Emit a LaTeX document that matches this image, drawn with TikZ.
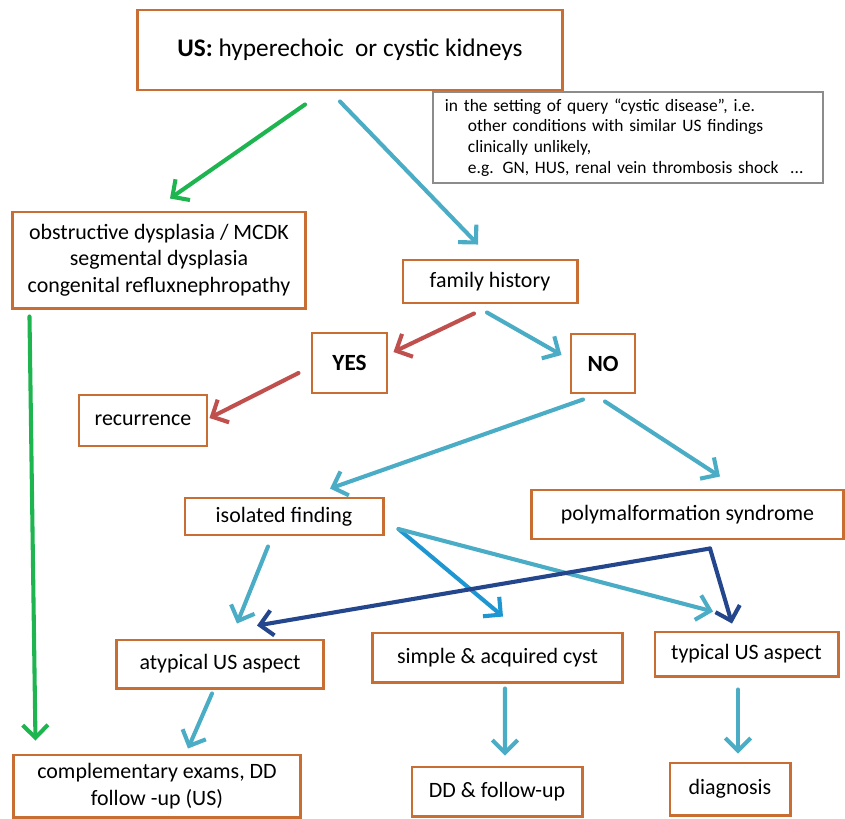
\documentclass[tikz,border=0pt]{standalone}
\usepackage{fontspec}
\setmainfont{Carlito}
\usetikzlibrary{arrows.meta, calc}

\definecolor{boxorange}{RGB}{200,110,50}
\definecolor{arrgreen}{RGB}{30,180,80}
\definecolor{arrblue}{RGB}{75,172,198}
\definecolor{arrdeep}{RGB}{30,150,210}
\definecolor{arrred}{RGB}{192,80,77}
\definecolor{arrnavy}{RGB}{35,70,140}
\definecolor{notegray}{RGB}{140,140,140}

\begin{document}
\begin{tikzpicture}[x=0.025cm, y=-0.025cm,
    box/.style={draw=boxorange, line width=2.1pt, fill=white, inner sep=0pt, align=center, font=\fontsize{15.6}{19}\selectfont},
    arr/.style={line width=2.9pt, line cap=round, -{Straight Barb[length=9pt, width=18pt]}}]
\useasboundingbox (0,0) rectangle (845,818);

% note and top box
\node[draw=notegray, line width=0.9pt, minimum width=9.75cm, minimum height=2.275cm, inner xsep=0.3cm, text width=9.15cm, align=left, font=\fontsize{12.4}{14.7}\selectfont] (note) at (628,137.5) {in the setting of query “cystic disease”, i.e.\\
\hspace*{0.575cm}other conditions with similar US findings\\
\hspace*{0.575cm}clinically unlikely,\\
\hspace*{0.575cm}e.g. GN, HUS, renal vein thrombosis shock\ \ ...};
\node[box, minimum width=10.6cm, minimum height=2cm, font=\fontsize{18}{22}\selectfont] (us) at (350,50) {\textbf{US:} hyperechoic\ \ or cystic kidneys};

\node[box, minimum width=7.3cm, minimum height=2.4cm] (obs) at (159,260) {obstructive dysplasia / MCDK\\ segmental dysplasia\\ congenital refluxnephropathy};
\node[box, minimum width=4.35cm, minimum height=1.075cm] (fam) at (490,281.5) {family history};
\node[box, minimum width=1.875cm, minimum height=1.5cm, font=\fontsize{16.5}{20}\bfseries] (yes) at (349.5,363) {YES};
\node[box, minimum width=1.6cm, minimum height=1.475cm, font=\fontsize{16.5}{20}\bfseries] (no) at (603,363.5) {NO};
\node[box, minimum width=3.2cm, minimum height=1.275cm] (rec) at (143,420.5) {recurrence};
\node[box, minimum width=4.95cm, minimum height=0.925cm] (iso) at (284,516.5) {isolated finding};
\node[box, minimum width=7.775cm, minimum height=1.225cm] (poly) at (687.5,514.5) {polymalformation syndrome};
\node[box, minimum width=5.15cm, minimum height=1.2cm] (aty) at (220,664) {atypical US aspect};
\node[box, minimum width=6.225cm, minimum height=1.225cm] (sim) at (497.5,657.5) {simple \& acquired cyst};
\node[box, minimum width=4.575cm, minimum height=1.1cm] (typ) at (746.5,654) {typical US aspect};
\node[box, minimum width=7.15cm, minimum height=1.55cm] (comp) at (157,786) {complementary exams, DD\\ follow -up (US)};
\node[box, minimum width=4.25cm, minimum height=1.225cm] (dd) at (497,791.5) {DD \& follow-up};
\node[box, minimum width=3cm, minimum height=1.3cm] (diag) at (730,789) {diagnosis};

% arrows
\draw[arr, arrgreen] ($(us.south)+(-45,13)$) -- ($(obs.north)+(11,-12)$);
\draw[arr, arrblue] ($(us.south)+(-10,10)$) -- ($(fam.north)+(-12,-14)$);
\draw[arr, arrgreen] ($(obs.south west)+(18,7)$) -- ($(comp.north west)+(23,-13)$);
\draw[arr, arrred] ($(fam.south)+(-16,9)$) -- ($(yes.east)+(5,-11)$);
\draw[arr, arrblue] ($(fam.south)+(-3,8)$) -- ($(no.west)+(-8,-8.5)$);
\draw[arr, arrred] ($(yes.west)+(-12,10)$) -- ($(rec.east)+(1,-2.5)$);
\draw[arr, arrblue] ($(no.south)+(-20,5)$) -- ($(iso.north)+(46,-8)$);
\draw[arr, arrblue] ($(no.south)+(2,7)$) -- ($(poly.north)+(32.5,-12)$);
\draw[arr, arrblue] ($(iso.south)+(-16,10)$) -- ($(aty.north)+(17,-15)$);
\draw[arr, arrdeep] ($(iso.east)+(14,12.5)$) -- ($(sim.north)+(5.5,-15)$);
\draw[arr, arrblue] ($(iso.east)+(14,12.5)$) -- ($(typ.north)+(-33.5,-19)$);
\coordinate (fork) at ($(poly.south)+(22.5,8)$);
\draw[arr, arrnavy] (fork) -- ($(aty.north)+(37,-13)$);
\draw[arr, arrnavy] (fork) -- ($(typ.north)+(-14.5,-7)$);
\draw[arr, arrblue] ($(aty.south)+(-8,4)$) -- ($(comp.north)+(31,-5)$);
\draw[arr, arrblue] ($(sim.south)+(7.5,5)$) -- ($(dd.north)+(8,-10)$);
\draw[arr, arrblue] ($(typ.south)+(-8.5,12)$) -- ($(diag.north)+(8,-8)$);

\end{tikzpicture}
\end{document}
